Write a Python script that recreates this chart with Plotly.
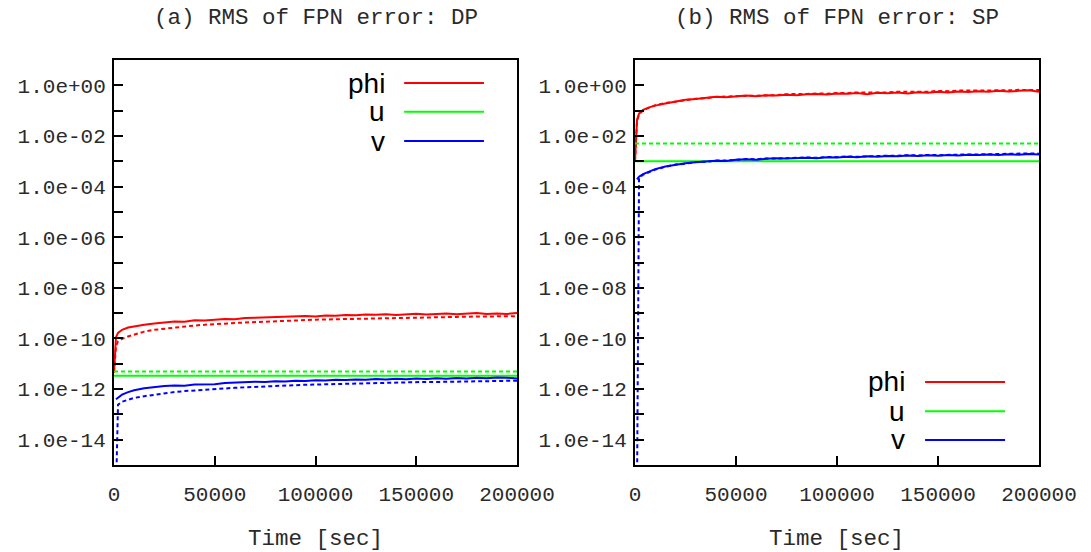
import plotly.graph_objects as go

# ---------------- data ----------------
time_s = [0, 1000, 2000, 4000, 7000, 10000, 15000, 20000, 25000, 30000, 35000, 40000,
          45000, 50000, 55000, 60000, 65000, 70000, 75000, 80000, 85000, 90000, 95000,
          100000, 105000, 110000, 115000, 120000, 125000, 130000, 135000, 140000, 145000,
          150000, 155000, 160000, 165000, 170000, 175000, 180000, 185000, 190000, 195000, 200000]

# (a) double precision
phi_dp_solid = [4.47e-12, 1.12e-10, 1.66e-10, 2.19e-10, 2.69e-10, 3.02e-10, 3.47e-10, 3.89e-10,
                4.17e-10, 4.68e-10, 4.57e-10, 5.25e-10, 5.13e-10, 5.62e-10, 5.89e-10, 5.75e-10,
                6.46e-10, 6.61e-10, 6.76e-10, 7.24e-10, 7.08e-10, 7.59e-10, 7.76e-10, 7.41e-10,
                8.13e-10, 7.94e-10, 8.51e-10, 8.32e-10, 8.91e-10, 8.71e-10, 9.12e-10, 8.51e-10,
                8.91e-10, 9.55e-10, 8.91e-10, 9.33e-10, 9.77e-10, 9.12e-10, 9.55e-10, 1.00e-9,
                9.33e-10, 9.77e-10, 9.33e-10, 1.00e-9]
phi_dp_dotted = [4.47e-12, 5.01e-11, 7.59e-11, 9.55e-11, 1.20e-10, 1.41e-10, 1.86e-10, 2.19e-10,
                 2.45e-10, 2.69e-10, 2.95e-10, 3.24e-10, 3.47e-10, 3.72e-10, 3.89e-10, 4.07e-10,
                 4.27e-10, 4.47e-10, 4.68e-10, 4.90e-10, 5.01e-10, 5.25e-10, 5.37e-10, 5.50e-10,
                 5.62e-10, 5.75e-10, 5.89e-10, 6.03e-10, 6.17e-10, 6.31e-10, 6.46e-10, 6.46e-10,
                 6.61e-10, 6.76e-10, 6.76e-10, 6.92e-10, 7.08e-10, 7.08e-10, 7.24e-10, 7.24e-10,
                 7.41e-10, 7.41e-10, 7.59e-10, 7.59e-10]
u_dp_solid = 3.39e-12
u_dp_dotted = 4.90e-12
v_dp_solid = [None, 3.98e-13, 4.68e-13, 6.03e-13, 7.59e-13, 8.91e-13, 1.07e-12, 1.20e-12,
              1.32e-12, 1.38e-12, 1.35e-12, 1.51e-12, 1.58e-12, 1.55e-12, 1.74e-12, 1.82e-12,
              1.78e-12, 1.95e-12, 1.91e-12, 2.04e-12, 2.00e-12, 2.14e-12, 2.09e-12, 2.24e-12,
              2.19e-12, 2.34e-12, 2.29e-12, 2.40e-12, 2.34e-12, 2.51e-12, 2.40e-12, 2.57e-12,
              2.45e-12, 2.63e-12, 2.51e-12, 2.69e-12, 2.57e-12, 2.75e-12, 2.63e-12, 2.82e-12,
              2.69e-12, 2.88e-12, 2.82e-12, 2.63e-12]
v_dp_dotted = [None, 1.0e-16, 2.40e-13, 3.16e-13, 3.89e-13, 4.47e-13, 5.25e-13, 6.03e-13,
               6.76e-13, 7.59e-13, 8.32e-13, 8.91e-13, 9.55e-13, 1.02e-12, 1.07e-12, 1.12e-12,
               1.17e-12, 1.23e-12, 1.29e-12, 1.35e-12, 1.38e-12, 1.45e-12, 1.48e-12, 1.51e-12,
               1.55e-12, 1.58e-12, 1.62e-12, 1.66e-12, 1.70e-12, 1.74e-12, 1.78e-12, 1.78e-12,
               1.82e-12, 1.86e-12, 1.91e-12, 1.91e-12, 1.95e-12, 2.00e-12, 2.00e-12, 2.04e-12,
               2.04e-12, 2.09e-12, 2.09e-12, 2.14e-12]

# (b) single precision
phi_sp_solid = [1.0e-3, 4.27e-2, 7.59e-2, 1.07e-1, 1.35e-1, 1.58e-1, 1.91e-1, 2.24e-1,
                2.69e-1, 2.88e-1, 3.24e-1, 3.55e-1, 3.39e-1, 3.80e-1, 3.98e-1, 3.72e-1,
                4.07e-1, 3.98e-1, 4.27e-1, 4.07e-1, 4.47e-1, 4.57e-1, 4.37e-1, 4.79e-1,
                4.68e-1, 5.01e-1, 4.47e-1, 5.13e-1, 4.90e-1, 5.25e-1, 4.79e-1, 5.37e-1,
                5.13e-1, 5.62e-1, 5.25e-1, 5.75e-1, 5.50e-1, 5.89e-1, 5.62e-1, 6.03e-1,
                5.75e-1, 6.03e-1, 6.31e-1, 5.62e-1]
phi_sp_dotted = [1.0e-3, 3.80e-2, 7.08e-2, 1.02e-1, 1.32e-1, 1.62e-1, 2.00e-1, 2.29e-1,
                 2.57e-1, 2.95e-1, 3.09e-1, 3.47e-1, 3.63e-1, 3.72e-1, 3.89e-1, 3.98e-1,
                 4.17e-1, 4.07e-1, 4.47e-1, 4.37e-1, 4.57e-1, 4.79e-1, 4.68e-1, 5.01e-1,
                 4.90e-1, 5.25e-1, 5.13e-1, 5.37e-1, 5.25e-1, 5.62e-1, 5.50e-1, 5.75e-1,
                 5.62e-1, 6.03e-1, 5.89e-1, 6.17e-1, 6.03e-1, 6.31e-1, 6.17e-1, 6.46e-1,
                 6.31e-1, 6.61e-1, 6.76e-1, 6.46e-1]
u_sp_solid = 1.0e-3
u_sp_dotted = 5.0e-3
v_sp_solid = [None, 1.91e-4, 2.45e-4, 3.09e-4, 3.89e-4, 4.90e-4, 6.17e-4, 7.24e-4,
              8.32e-4, 9.12e-4, 9.77e-4, 1.05e-3, 1.02e-3, 1.15e-3, 1.20e-3, 1.15e-3,
              1.26e-3, 1.32e-3, 1.29e-3, 1.38e-3, 1.38e-3, 1.32e-3, 1.45e-3, 1.41e-3,
              1.51e-3, 1.45e-3, 1.58e-3, 1.51e-3, 1.62e-3, 1.58e-3, 1.70e-3, 1.62e-3,
              1.74e-3, 1.66e-3, 1.78e-3, 1.70e-3, 1.82e-3, 1.78e-3, 1.86e-3, 1.78e-3,
              1.91e-3, 1.82e-3, 1.95e-3, 1.86e-3]
v_sp_dotted = [None, 1.0e-16, 2.19e-4, 2.95e-4, 3.80e-4, 4.68e-4, 6.03e-4, 7.41e-4,
               7.94e-4, 9.33e-4, 9.55e-4, 1.07e-3, 1.07e-3, 1.12e-3, 1.23e-3, 1.20e-3,
               1.29e-3, 1.29e-3, 1.35e-3, 1.35e-3, 1.41e-3, 1.38e-3, 1.48e-3, 1.45e-3,
               1.55e-3, 1.51e-3, 1.58e-3, 1.58e-3, 1.66e-3, 1.66e-3, 1.74e-3, 1.70e-3,
               1.78e-3, 1.74e-3, 1.82e-3, 1.78e-3, 1.86e-3, 1.86e-3, 1.91e-3, 1.86e-3,
               1.95e-3, 1.95e-3, 2.04e-3, 2.00e-3]

panel_titles = ["(a) RMS of FPN error: DP", "(b) RMS of FPN error: SP"]
series_names = ["phi", "u", "v"]
series_colors = ["#ff0000", "#00ff00", "#0000ff"]
x_tick_vals = [0, 50000, 100000, 150000, 200000]
x_tick_text = ["0", "50000", "100000", "150000", "200000"]
y_exponents = list(range(-14, 1))
x_title = "Time [sec]"

# ---------------- figure ----------------
W, H = 1091, 552
MONO = "Liberation Mono, Courier New, monospace"
SANS = "Liberation Sans, Arial, sans-serif"
TXT = "#2a2a2a"
DOT = "4px,3px"


def px(X):
    return X / W


def py(Y):
    return 1 - Y / H


fig = go.Figure()

panels = [
    dict(xa="x", ya="y",
         phi=(phi_dp_solid, phi_dp_dotted), u=(u_dp_solid, u_dp_dotted), v=(v_dp_solid, v_dp_dotted)),
    dict(xa="x2", ya="y2",
         phi=(phi_sp_solid, phi_sp_dotted), u=(u_sp_solid, u_sp_dotted), v=(v_sp_solid, v_sp_dotted)),
]

for p in panels:
    for key, col in zip(series_names, series_colors):
        solid, dotted = p[key]
        if isinstance(solid, list):
            xs, ys_s, ys_d = time_s, solid, dotted
        else:
            xs, ys_s, ys_d = [time_s[0], time_s[-1]], [solid, solid], [dotted, dotted]
        fig.add_trace(go.Scatter(x=xs, y=ys_d, mode="lines", xaxis=p["xa"], yaxis=p["ya"],
                                 line=dict(color=col, width=2, dash=DOT),
                                 showlegend=False, hoverinfo="skip", connectgaps=False))
        fig.add_trace(go.Scatter(x=xs, y=ys_s, mode="lines", xaxis=p["xa"], yaxis=p["ya"],
                                 line=dict(color=col, width=2),
                                 showlegend=False, hoverinfo="skip", connectgaps=False))

y_tickvals = [10.0 ** e for e in y_exponents]
y_ticktext = [("1.0e%+03d" % e) if e % 2 == 0 else "" for e in y_exponents]

yd = [py(465), py(60)]
xdoms = [[px(114), px(517)], [px(635), px(1039)]]

common_x = dict(range=[0, 200000], tickmode="array", tickvals=x_tick_vals, ticktext=x_tick_text,
                ticks="inside", ticklen=9, tickwidth=2, tickcolor="black",
                showline=True, linecolor="black", linewidth=2, mirror=True,
                showgrid=False, zeroline=False, ticklabelstandoff=9,
                tickfont=dict(family=MONO, size=21, color=TXT), automargin=False)
common_y = dict(type="log", range=[-15, 1], tickmode="array", tickvals=y_tickvals,
                ticktext=y_ticktext, ticks="inside", ticklen=9, tickwidth=2, tickcolor="black",
                showline=True, linecolor="black", linewidth=2, mirror=True,
                showgrid=False, zeroline=False, ticklabelstandoff=2,
                tickfont=dict(family=MONO, size=21, color=TXT), automargin=False)

fig.update_layout(
    width=W, height=H,
    margin=dict(l=0, r=0, t=0, b=0),
    paper_bgcolor="white", plot_bgcolor="white",
    showlegend=False,
    hovermode=False,
    xaxis=dict(domain=xdoms[0], anchor="y", **common_x),
    yaxis=dict(domain=yd, anchor="x", **common_y),
    xaxis2=dict(domain=xdoms[1], anchor="y2", **common_x),
    yaxis2=dict(domain=yd, anchor="x2", **common_y),
)

annotations = []
shapes = []
legend_y = [[0.943, 0.872, 0.800], [0.205, 0.133, 0.062]]
legend_x = [[0.677, 0.720, 0.918], [0.673, 0.718, 0.916]]
for i, (xa, ya) in enumerate([("x", "y"), ("x2", "y2")]):
    cx = (xdoms[i][0] + xdoms[i][1]) / 2
    annotations.append(dict(text=panel_titles[i], x=cx, y=py(18), xref="paper", yref="paper",
                            xanchor="center", yanchor="middle", showarrow=False,
                            font=dict(family=MONO, size=22.5, color=TXT)))
    annotations.append(dict(text=x_title, x=cx, y=py(539), xref="paper", yref="paper",
                            xanchor="center", yanchor="middle", showarrow=False,
                            font=dict(family=MONO, size=22.5, color=TXT)))
    tx, l0, l1 = legend_x[i]
    for name, col, ly in zip(series_names, series_colors, legend_y[i]):
        annotations.append(dict(text=name, x=tx, y=ly, xref=xa + " domain", yref=ya + " domain",
                                xanchor="right", yanchor="middle", showarrow=False,
                                font=dict(family=SANS, size=28, color="black")))
        shapes.append(dict(type="line", x0=l0, x1=l1, y0=ly, y1=ly,
                           xref=xa + " domain", yref=ya + " domain",
                           line=dict(color=col, width=2)))

fig.update_layout(annotations=annotations, shapes=shapes)

# place the figure flush with the window corner (no default page margin), no mode bar
fig.write_html("out.html", config={"displayModeBar": False},
               post_script="document.body.style.margin='0';")
